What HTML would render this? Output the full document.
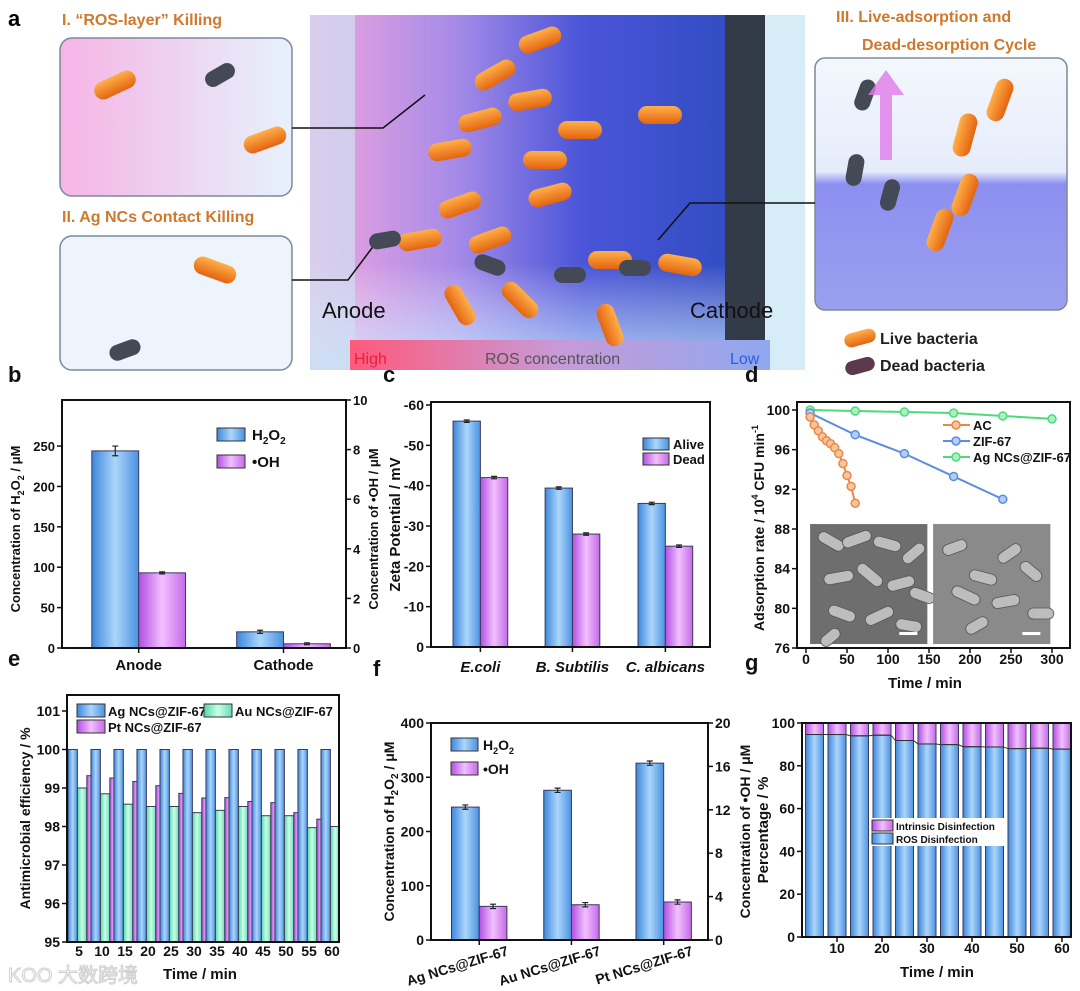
<!DOCTYPE html>
<html><head><meta charset="utf-8"><style>
body{margin:0;background:#fff}
svg{display:block;font-family:"Liberation Sans",Arial,sans-serif}
</style></head><body>
<svg id="fig" width="1080" height="991" viewBox="0 0 1080 991" xmlns="http://www.w3.org/2000/svg">
<defs>
<linearGradient id="gBlue" x1="0" x2="1"><stop offset="0" stop-color="#3c87dc"/><stop offset="0.5" stop-color="#acd6fb"/><stop offset="1" stop-color="#4a92e2"/></linearGradient>
<linearGradient id="gPurp" x1="0" x2="1"><stop offset="0" stop-color="#b24ee2"/><stop offset="0.5" stop-color="#f2c0ff"/><stop offset="1" stop-color="#c46ae8"/></linearGradient>
<linearGradient id="gGreen" x1="0" x2="1"><stop offset="0" stop-color="#55d9a6"/><stop offset="0.5" stop-color="#c9ffe9"/><stop offset="1" stop-color="#66dcae"/></linearGradient>
<linearGradient id="gCenter" x1="0" x2="1"><stop offset="0" stop-color="#f3a6df"/><stop offset="0.3" stop-color="#a48ae8"/><stop offset="0.55" stop-color="#4a55d8"/><stop offset="1" stop-color="#2548b8"/></linearGradient>
<linearGradient id="gCenterV" x1="0" y1="0" x2="0" y2="1"><stop offset="0" stop-color="#ffffff" stop-opacity="0"/><stop offset="0.7" stop-color="#ffffff" stop-opacity="0"/><stop offset="1" stop-color="#bfe8ff" stop-opacity="0.8"/></linearGradient>
<linearGradient id="gRos" x1="0" x2="1"><stop offset="0" stop-color="#ff5a7a"/><stop offset="0.5" stop-color="#c79ad8"/><stop offset="1" stop-color="#8fa8f0"/></linearGradient>
<linearGradient id="gBox1" x1="0" x2="1"><stop offset="0" stop-color="#f6b4e6"/><stop offset="1" stop-color="#e6f2fc"/></linearGradient>
<linearGradient id="gBox3" x1="0" y1="0" x2="0" y2="1"><stop offset="0" stop-color="#f3f7fd"/><stop offset="0.45" stop-color="#e6ecfb"/><stop offset="0.5" stop-color="#8d8ff0"/><stop offset="1" stop-color="#9aa0ee"/></linearGradient>
<linearGradient id="gBact" x1="0" y1="0" x2="0" y2="1"><stop offset="0" stop-color="#ffb04a"/><stop offset="1" stop-color="#e3640f"/></linearGradient>
</defs>

<g>
<text x="8" y="26" font-size="22" font-weight="bold">a</text>
<text x="62" y="25" font-size="16" font-weight="bold" fill="#d0782c">I. “ROS-layer” Killing</text>
<rect x="60" y="38" width="232" height="158" rx="12" fill="url(#gBox1)" stroke="#7c8a98" stroke-width="1.5"/>
<text x="62" y="222" font-size="16" font-weight="bold" fill="#d0782c">II. Ag NCs Contact Killing</text>
<rect x="60" y="236" width="232" height="134" rx="12" fill="#eef4fb" stroke="#7c8a98" stroke-width="1.5"/>
<rect x="310" y="15" width="495" height="355" fill="url(#gCenter)"/>
<rect x="310" y="15" width="495" height="355" fill="url(#gCenterV)"/>
<rect x="310" y="15" width="45" height="355" fill="#cde0f2" opacity="0.7"/>
<rect x="725" y="15" width="40" height="345" fill="#333a48"/>
<rect x="765" y="15" width="40" height="355" fill="#d6ecf7"/>
<rect x="350" y="340" width="420" height="30" fill="url(#gRos)"/>
<text x="354" y="364" font-size="16" fill="#e8203c">High</text>
<text x="485" y="364" font-size="16" fill="#555">ROS concentration</text>
<text x="730" y="364" font-size="16" fill="#2a60d8">Low</text>
<text x="322" y="318" font-size="22" fill="#111">Anode</text>
<text x="690" y="318" font-size="22" fill="#111">Cathode</text>
<text x="836" y="22" font-size="16" font-weight="bold" fill="#d0782c">III. Live-adsorption and</text>
<text x="862" y="50" font-size="16" font-weight="bold" fill="#d0782c">Dead-desorption Cycle</text>
<rect x="815" y="58" width="252" height="252" rx="10" fill="url(#gBox3)" stroke="#7c8a98" stroke-width="1.5"/>
<polyline points="292,128 383,128 425,95" fill="none" stroke="#111" stroke-width="1.5"/>
<polyline points="292,280 348,280 378,240" fill="none" stroke="#111" stroke-width="1.5"/>
<polyline points="815,203 690,203 658,240" fill="none" stroke="#111" stroke-width="1.5"/>
<g id="bacteria"></g>
<g transform="translate(860,338) rotate(-15)"><rect x="-16" y="-7" width="32" height="14" rx="7" fill="url(#gBact)"/></g>
<text x="880" y="344" font-size="16" font-weight="bold" fill="#222">Live bacteria</text>
<g transform="translate(860,366) rotate(-15)"><rect x="-15" y="-7" width="30" height="14" rx="7" fill="#5b3a4e"/></g>
<text x="880" y="371" font-size="16" font-weight="bold" fill="#222">Dead bacteria</text>
</g>

<g id="charts"></g>
</svg>
<script>
const NS='http://www.w3.org/2000/svg';
const svg=document.getElementById('charts');

/* ---------- Data ---------- */
const bCats=['Anode','Cathode'];
const bH2O2=[244,20];
const bH2O2Err=[6,2];
const bOH=[3.03,0.17];
const bLeftTicks=[0,50,100,150,200,250];
const bRightTicks=[0,2,4,6,8,10];
const cCats=['E.coli','B. Subtilis','C. albicans'];
const cAlive=[56,39.4,35.6];
const cDead=[42,28,25];
const cTicks=[0,10,20,30,40,50,60];
const dTicksX=[0,50,100,150,200,250,300];
const dTicksY=[76,80,84,88,92,96,100];
const dAcT=[5,10,15,20,25,30,35,40,45,50,55,60];
const dAcV=[99.3,98.5,97.9,97.3,96.9,96.6,96.2,95.6,94.6,93.4,92.3,90.6];
const dZifT=[5,60,120,180,240];
const dZifV=[99.7,97.5,95.6,93.3,91.0];
const dAgT=[5,60,120,180,240,300];
const dAgV=[100,99.9,99.8,99.7,99.4,99.1];
const eCats=[5,10,15,20,25,30,35,40,45,50,55,60];
const eAg=[100,100,100,100,100,100,100,100,100,100,100,100];
const eAu=[99.0,98.85,98.58,98.52,98.52,98.36,98.42,98.52,98.28,98.28,97.97,98.0];
const ePt=[99.32,99.26,99.17,99.06,98.86,98.74,98.75,98.65,98.62,98.36,98.19,98.0];
const eTicks=[95,96,97,98,99,100,101];
const fCats=['Ag NCs@ZIF-67','Au NCs@ZIF-67','Pt NCs@ZIF-67'];
const fH2O2=[245,276,326];
const fOH=[3.1,3.25,3.5];
const fLeftTicks=[0,100,200,300,400];
const fRightTicks=[0,4,8,12,16,20];
const gCats=[5,10,15,20,25,30,35,40,45,50,55,60];
const gROS=[94.6,94.6,94.0,94.3,91.8,90.2,89.9,88.9,88.8,88.0,88.2,87.8];
const gTicksY=[0,20,40,60,80,100];
const gTicksX=[10,20,30,40,50,60];

/* ---------- helpers ---------- */
function mk(tag,attrs,parent){const e=document.createElementNS(NS,tag);for(const k in attrs)e.setAttribute(k,attrs[k]);(parent||svg).appendChild(e);return e;}
function tx(x,y,s,size,anchor,extra){const e=mk('text',Object.assign({x:x,y:y,'font-size':size,'font-weight':'bold','text-anchor':anchor||'middle',fill:'#111'},extra||{}));e.textContent=s;return e;}
function lin(d0,d1,r0,r1){return v=>r0+(v-d0)*(r1-r0)/(d1-d0);}
function frame(x0,y0,x1,y1,name){const r=mk('rect',{x:x0,y:y0,width:x1-x0,height:y1-y0,fill:'none',stroke:'#111','stroke-width':2});return r;}
function yTicks(ticks,sc,x,side,labelFn,fs){ticks.forEach(t=>{const y=sc(t);const d=side==='left'?-5:5;const l=mk('line',{x1:x,x2:x+d,y1:y,y2:y,stroke:'#111','stroke-width':1.5});const e=tx(x+(side==='left'?-7:7),y+5,labelFn?labelFn(t):String(t),fs||14,side==='left'?'end':'start');});}
function rotLabel(x,y,s,name,size){const e=mk('text',{x:0,y:0,'font-size':size||15,'font-weight':'bold','text-anchor':'middle',fill:'#111',transform:`translate(${x},${y}) rotate(-90)`});e.innerHTML=s;return e;}
function bar(x,w,yTop,yBot,fill,name){const r=mk('rect',{x:x,y:Math.min(yTop,yBot),width:w,height:Math.abs(yBot-yTop),fill:fill,stroke:'#3a3a5a','stroke-width':1});return r;}
function errBar(cx,y1,y2){const g=mk('path',{d:`M${cx-3},${y1}H${cx+3}M${cx},${y1}V${y2}M${cx-3},${y2}H${cx+3}`,stroke:'#222','stroke-width':1.2,fill:'none'});}
function panelLabel(x,y,s){const e=tx(x,y,s,22,'start');}

/* ---------- b ---------- */
(function(){
 const X0=62,X1=346,Y0=400,Y1=648;
 panelLabel(8,382,'b');
 const yl=lin(0,307,Y1,Y0), yr=lin(0,10,Y1,Y0);
 const W=X1-X0, bw=0.165*W, centers=[0.27,0.78];
 bCats.forEach((c,i)=>{const cx=X0+centers[i]*W;
  bar(cx-bw,bw,yl(bH2O2[i]),Y1,'url(#gBlue)','bar-h2o2-'+c.toLowerCase());
  errBar(cx-bw/2,yl(bH2O2[i]+bH2O2Err[i]),yl(bH2O2[i]-bH2O2Err[i]));
  bar(cx,bw,yr(bOH[i]),Y1,'url(#gPurp)','bar-oh-'+c.toLowerCase());
  errBar(cx+bw/2,yr(bOH[i]+0.04),yr(bOH[i]-0.04));
  const t=mk('line',{x1:cx,x2:cx,y1:Y1,y2:Y1+5,stroke:'#111','stroke-width':1.5});
  const l=tx(cx,670,c,15);});
 frame(X0,Y0,X1,Y1,'plot-frame-b');
 yTicks(bLeftTicks,yl,X0,'left',null,13);yTicks(bRightTicks,yr,X1,'right',null,13);
 rotLabel(20,Y0+(Y1-Y0)/2+5,'Concentration of H<tspan font-size="9" dy="4">2</tspan><tspan dy="-4">O</tspan><tspan font-size="9" dy="4">2</tspan><tspan dy="-4"> / μM</tspan>','y-axis-title-b-left',13);
 rotLabel(378,Y0+(Y1-Y0)/2+5,'Concentration of •OH / μM','y-axis-title-b-right',13);
 const s1=mk('rect',{x:217,y:428,width:28,height:13,fill:'url(#gBlue)',stroke:'#333'});
 const t1=mk('text',{x:252,y:440,'font-size':15,'font-weight':'bold',fill:'#111'});t1.innerHTML='H<tspan font-size="10" dy="4">2</tspan><tspan dy="-4">O</tspan><tspan font-size="10" dy="4">2</tspan>';
 const s2=mk('rect',{x:217,y:455,width:28,height:13,fill:'url(#gPurp)',stroke:'#333'});
 const t2=tx(252,467,'•OH',15,'start');
})();

/* ---------- c ---------- */
(function(){
 const X0=431,X1=710,Y0=402,Y1=647;
 panelLabel(383,382,'c');
 const y=lin(0,60,Y1,405), W=X1-X0, bw=0.098*W, centers=[0.177,0.507,0.84];
 cCats.forEach((c,i)=>{const cx=X0+centers[i]*W;
  bar(cx-bw,bw,y(cAlive[i]),Y1,'url(#gBlue)','bar-alive-'+i);errBar(cx-bw/2,y(cAlive[i]+0.3),y(cAlive[i]-0.3));
  bar(cx,bw,y(cDead[i]),Y1,'url(#gPurp)','bar-dead-'+i);errBar(cx+bw/2,y(cDead[i]+0.3),y(cDead[i]-0.3));
  const t=mk('line',{x1:cx,x2:cx,y1:Y1,y2:Y1+5,stroke:'#111','stroke-width':1.5});
  const l=tx(cx,672,c,15,'middle',{'font-style':'italic'});});
 frame(X0,Y0,X1,Y1,'plot-frame-c');
 yTicks(cTicks,y,X0,'left',t=>t===0?'0':'-'+t);
 rotLabel(400,Y0+(Y1-Y0)/2,'Zeta Potential / mV','y-axis-title-c',15);
 const s1=mk('rect',{x:643,y:438,width:26,height:12,fill:'url(#gBlue)',stroke:'#333'});
 const t1=tx(673,449,'Alive',13,'start');
 const s2=mk('rect',{x:643,y:453,width:26,height:12,fill:'url(#gPurp)',stroke:'#333'});
 const t2=tx(673,464,'Dead',13,'start');
})();

/* ---------- d ---------- */
(function(){
 const X0=797,X1=1070,Y0=402,Y1=648;
 panelLabel(745,382,'d');
 const x=lin(0,300,806,1052), y=lin(76,100,Y1,410);
 [[5,148],[155,298]].forEach((r,k)=>{const g=mk('g',{});
  const x0=x(r[0]),x1=x(r[1]),ya=y(88.5),yb=y(76.4);
  mk('rect',{x:x0,y:ya,width:x1-x0,height:yb-ya,fill:k?'#8a8a8a':'#6e6e6e'},g);
  const rods=k?[[10,15,25,-20],[40,40,28,15],[70,20,26,-35],[20,55,30,25],[65,60,28,-10],[95,35,25,40],[105,70,26,0],[35,80,24,-30]]:[[8,10,28,30],[35,8,30,-20],[70,12,28,15],[100,20,26,-40],[15,40,30,-10],[50,38,30,40],[85,45,28,-15],[110,55,26,20],[20,70,28,20],[60,72,30,-25],[95,80,26,10],[10,90,22,-40]];
  rods.forEach(q=>{mk('rect',{x:x0+q[0]*(x1-x0)/130,y:ya+q[1]*(yb-ya)/100,width:q[2],height:11,rx:5.5,fill:'#bdbdbd',stroke:'#555','stroke-width':0.8,transform:`rotate(${q[3]},${x0+q[0]*(x1-x0)/130+q[2]/2},${ya+q[1]*(yb-ya)/100+5})`},g);});
  mk('rect',{x:x1-28,y:yb-12,width:18,height:3,fill:'#fff'},g);});
 function series(ts,vs,color,fillc,name){const p=mk('polyline',{points:ts.map((t,i)=>x(t)+','+y(vs[i])).join(' '),fill:'none',stroke:color,'stroke-width':2});
  ts.forEach((t,i)=>{const c=mk('circle',{cx:x(t),cy:y(vs[i]),r:4,fill:fillc,stroke:color,'stroke-width':1.5});});}
 series(dAgT,dAgV,'#4ed97c','#a9f2bf','ag-ncs-zif67');
 series(dZifT,dZifV,'#5b8ee0','#b5cdf5','zif67');
 series(dAcT,dAcV,'#e8894a','#f8c59c','ac');
 frame(X0,Y0,X1,Y1,'plot-frame-d');
 yTicks(dTicksY,y,X0,'left');
 dTicksX.forEach(t=>{const l=mk('line',{x1:x(t),x2:x(t),y1:Y1,y2:Y1+5,stroke:'#111','stroke-width':1.5});const e=tx(x(t),664,String(t),14);});
 const xt=tx(925,688,'Time / min',15);
 rotLabel(764,528,'Adsorption rate / 10<tspan font-size="9" dy="-6">4</tspan><tspan dy="6"> CFU min</tspan><tspan font-size="9" dy="-6">-1</tspan>','y-axis-title-d',14);
 [['AC','#e8894a','#f8c59c',425],['ZIF-67','#5b8ee0','#b5cdf5',441],['Ag NCs@ZIF-67','#4ed97c','#a9f2bf',457]].forEach(l=>{const g=mk('g',{});
  mk('line',{x1:943,x2:970,y1:l[3],y2:l[3],stroke:l[1],'stroke-width':2},g);mk('circle',{cx:956,cy:l[3],r:4,fill:l[2],stroke:l[1],'stroke-width':1.5},g);
  const t=mk('text',{x:973,y:l[3]+5,'font-size':13,'font-weight':'bold',fill:'#111'},g);t.textContent=l[0];});
})();

/* ---------- e ---------- */
(function(){
 const X0=67,X1=339,Y0=695,Y1=942;
 panelLabel(8,666,'e');
 const y=lin(95,101,Y1,711), x=lin(5,60,79,332), g=(332-79)/11, bw=0.41*g;
 const cl=mk('clipPath',{id:'clipE'});mk('rect',{x:X0,y:Y0,width:X1-X0,height:Y1-Y0},cl);
 const grp=mk('g',{'clip-path':'url(#clipE)'});
 eCats.forEach((c,i)=>{const cx=x(c);
  const a=mk('rect',{x:cx-0.48*g,y:y(eAg[i]),width:bw,height:Y1-y(eAg[i]),fill:'url(#gBlue)',stroke:'#3a3a5a','stroke-width':1},grp);
  const b=mk('rect',{x:cx-0.07*g,y:y(eAu[i]),width:bw,height:Y1-y(eAu[i]),fill:'url(#gGreen)',stroke:'#3a3a5a','stroke-width':1},grp);
  const p=mk('rect',{x:cx+0.34*g,y:y(ePt[i]),width:bw,height:Y1-y(ePt[i]),fill:'url(#gPurp)',stroke:'#3a3a5a','stroke-width':1},grp);
  const t=tx(cx,956,String(c),14);});
 frame(X0,Y0,X1,Y1,'plot-frame-e');
 yTicks(eTicks,y,X0,'left');
 const xt=tx(200,979,'Time / min',15);
 rotLabel(30,Y0+(Y1-Y0)/2,'Antimicrobial efficiency / %','y-axis-title-e',14);
 [['Ag NCs@ZIF-67','url(#gBlue)',77,704],['Au NCs@ZIF-67','url(#gGreen)',204,704],['Pt NCs@ZIF-67','url(#gPurp)',77,720]].forEach(l=>{const gg=mk('g',{});
  mk('rect',{x:l[2],y:l[3],width:28,height:13,fill:l[1],stroke:'#333'},gg);const t=mk('text',{x:l[2]+31,y:l[3]+12,'font-size':13,'font-weight':'bold',fill:'#111'},gg);t.textContent=l[0];});
 const wm=mk('text',{x:8,y:982,'font-size':20,fill:'#ffffff',stroke:'#cfcfcf','stroke-width':1,'font-family':'"Liberation Sans","Noto Sans CJK SC",sans-serif'});wm.textContent='KOO 大数跨境';
})();

/* ---------- f ---------- */
(function(){
 const X0=431,X1=708,Y0=723,Y1=940;
 panelLabel(373,676,'f');
 const yl=lin(0,400,Y1,Y0), yr=lin(0,20,Y1,Y0), W=X1-X0, bw=0.1*W, centers=[0.174,0.507,0.84];
 fCats.forEach((c,i)=>{const cx=X0+centers[i]*W;
  bar(cx-bw,bw,yl(fH2O2[i]),Y1,'url(#gBlue)','bar-h2o2-'+i);errBar(cx-bw/2,yl(fH2O2[i]+4),yl(fH2O2[i]-4));
  bar(cx,bw,yr(fOH[i]),Y1,'url(#gPurp)','bar-oh-'+i);errBar(cx+bw/2,yr(fOH[i]+0.2),yr(fOH[i]-0.2));
  const t=mk('line',{x1:cx,x2:cx,y1:Y1,y2:Y1+5,stroke:'#111','stroke-width':1.5});
  const l=mk('text',{x:0,y:0,'font-size':14,'font-weight':'bold','text-anchor':'end',fill:'#111',transform:`translate(${cx+30},${955}) rotate(-17)`});l.textContent=c;});
 frame(X0,Y0,X1,Y1,'plot-frame-f');
 yTicks(fLeftTicks,yl,X0,'left');yTicks(fRightTicks,yr,X1,'right');
 rotLabel(394,Y0+(Y1-Y0)/2,'Concentration of H<tspan font-size="10" dy="4">2</tspan><tspan dy="-4">O</tspan><tspan font-size="10" dy="4">2</tspan><tspan dy="-4"> / μM</tspan>','y-axis-title-f-left',14);
 rotLabel(750,Y0+(Y1-Y0)/2,'Concentration of •OH / μM','y-axis-title-f-right',14);
 const s1=mk('rect',{x:451,y:738,width:27,height:13,fill:'url(#gBlue)',stroke:'#333'});
 const t1=mk('text',{x:483,y:750,'font-size':14,'font-weight':'bold',fill:'#111'});t1.innerHTML='H<tspan font-size="9" dy="4">2</tspan><tspan dy="-4">O</tspan><tspan font-size="9" dy="4">2</tspan>';
 const s2=mk('rect',{x:451,y:762,width:27,height:13,fill:'url(#gPurp)',stroke:'#333'});
 const t2=tx(483,774,'•OH',14,'start');
})();

/* ---------- g ---------- */
(function(){
 const X0=802,X1=1071,Y0=723,Y1=937;
 panelLabel(745,670,'g');
 const y=lin(0,100,Y1,Y0), x=lin(10,60,837,1062), bw=18;
 const pts=[];
 gCats.forEach((c,i)=>{const cx=x(c);
  bar(cx-bw/2,bw,y(100),y(gROS[i]),'url(#gPurp)','bar-intrinsic-'+c);
  bar(cx-bw/2,bw,y(gROS[i]),Y1,'url(#gBlue)','bar-ros-'+c);
  pts.push((cx-bw/2)+','+y(gROS[i]),(cx+bw/2)+','+y(gROS[i]));});
 const pl=mk('polyline',{points:pts.join(' '),fill:'none',stroke:'#333','stroke-width':1});
 frame(X0,Y0,X1,Y1,'plot-frame-g');
 yTicks(gTicksY,y,X0,'left');
 gTicksX.forEach(t=>{const l=mk('line',{x1:x(t),x2:x(t),y1:Y1,y2:Y1+5,stroke:'#111','stroke-width':1.5});const e=tx(x(t),953,String(t),14);});
 const xt=tx(937,977,'Time / min',15);
 rotLabel(768,Y0+(Y1-Y0)/2,'Percentage / %','y-axis-title-g',15);
 const lb=mk('rect',{x:871,y:818,width:135,height:28,fill:'#fff'});
 const s1=mk('rect',{x:872,y:820,width:21,height:11,fill:'url(#gPurp)',stroke:'#333'});
 const t1=tx(896,830,'Intrinsic Disinfection',10,'start');
 const s2=mk('rect',{x:872,y:833,width:21,height:11,fill:'url(#gBlue)',stroke:'#333'});
 const t2=tx(896,843,'ROS Disinfection',10,'start');
})();

/* ---------- decorative bacteria in panel a ---------- */
(function(){
 const bg=document.getElementById('bacteria');
 const live=[[495,75,-30],[540,40,-20],[480,120,-15],[450,150,-10],[530,100,-10],[660,115,0],[545,160,0],[460,205,-20],[550,195,-15],[490,240,-20],[610,260,0],[420,240,-10],[460,305,60],[520,300,45],[610,325,70],[680,265,10],[580,130,0],[115,85,-25],[265,140,-20],[215,270,20],[1000,100,-70],[965,135,-75],[965,195,-70],[940,230,-70]];
 live.forEach(b=>{const g=document.createElementNS(NS,'g');g.setAttribute('transform',`translate(${b[0]},${b[1]}) rotate(${b[2]})`);
  
  
  const r=document.createElementNS(NS,'rect');r.setAttribute('x',-22);r.setAttribute('y',-9);r.setAttribute('width',44);r.setAttribute('height',18);r.setAttribute('rx',9);r.setAttribute('fill','url(#gBact)');g.appendChild(r);bg.appendChild(g);});
 const dead=[[220,75,-30],[385,240,-10],[125,350,-20],[865,95,-70],[855,170,-80],[890,195,-75],[490,265,20],[570,275,0],[635,268,0]];
 dead.forEach(b=>{const g=document.createElementNS(NS,'g');g.setAttribute('transform',`translate(${b[0]},${b[1]}) rotate(${b[2]})`);
  
  
  const r=document.createElementNS(NS,'rect');r.setAttribute('x',-16);r.setAttribute('y',-8);r.setAttribute('width',32);r.setAttribute('height',16);r.setAttribute('rx',8);r.setAttribute('fill','#444a55');g.appendChild(r);bg.appendChild(g);});
 const arrow=document.createElementNS(NS,'path');arrow.setAttribute('d','M880,160 L880,95 L868,95 L886,70 L904,95 L892,95 L892,160 Z');arrow.setAttribute('fill','#e07ae8');arrow.setAttribute('opacity','0.8');
 
 
 bg.appendChild(arrow);
})();
</script>
</body></html>
